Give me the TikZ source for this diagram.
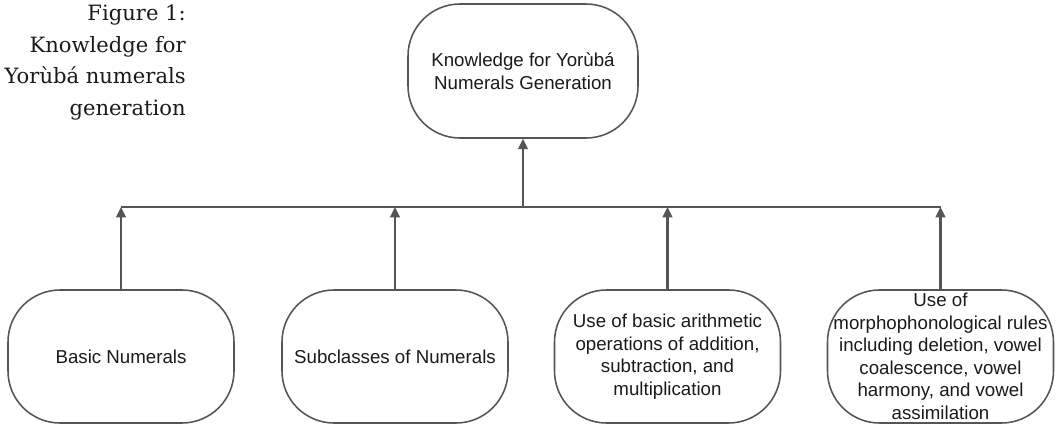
\documentclass[tikz,border=0pt]{standalone}
\usepackage{fontspec}
\setmainfont{DejaVu Serif}
\setsansfont{Liberation Sans}
\usetikzlibrary{positioning,calc,arrows.meta}

\definecolor{linegray}{HTML}{555555}
\definecolor{textdark}{HTML}{1A1A1A}

\begin{document}
\begin{tikzpicture}[
    knowbox/.style={draw=linegray, line width=1.1pt, rounded corners=1.3cm,
        minimum width=5.65cm, minimum height=3.325cm, align=center, inner sep=0pt,
        font=\sffamily\fontsize{13.3}{16}\selectfont, text=textdark},
    link/.style={draw=linegray, line width=1.5pt},
    linkarrow/.style={link, -{Triangle[length=0.26cm,width=0.24cm]}}
]
    \useasboundingbox (0,0) rectangle (26.4,10.725);

    % Caption
    \node[anchor=north east, align=right, inner sep=0pt, text=textdark,
        font=\fontsize{15}{22.7}\selectfont] (caption) at (4.65,10.62)
        {Figure 1:\\Knowledge for\\Yorùbá numerals\\generation};

    % Top
    \node[knowbox, minimum width=5.75cm, minimum height=3.35cm] (goal) at (13.075,8.95)
        {Knowledge for Yorùbá\\Numerals Generation};

    % Bottom row
    \node[knowbox] (basic) at (3.025,1.8125) {Basic Numerals};
    \node[knowbox] (subclass) at (9.875,1.8125) {Subclasses of Numerals};
    \node[knowbox] (arith) at (16.6875,1.8125)
        {Use of basic arithmetic\\operations of addition,\\subtraction, and\\multiplication};
    \node[knowbox] (rules) at (23.5125,1.8125)
        {Use of\\morphophonological rules\\including deletion, vowel\\coalescence, vowel\\harmony, and vowel\\assimilation};

    % Bus
    \coordinate (bus) at (0,5.55);
    \draw[link] (basic.north |- bus) -- (rules.north |- bus);
    \draw[linkarrow] (goal.south |- bus) -- (goal.south);

    % Up arrows
    \draw[linkarrow] (basic.north) -- (basic.north |- bus);
    \draw[linkarrow] (subclass.north) -- (subclass.north |- bus);
    \draw[linkarrow] (arith.north) -- (arith.north |- bus);
    \draw[linkarrow] (rules.north) -- (rules.north |- bus);
\end{tikzpicture}
\end{document}
